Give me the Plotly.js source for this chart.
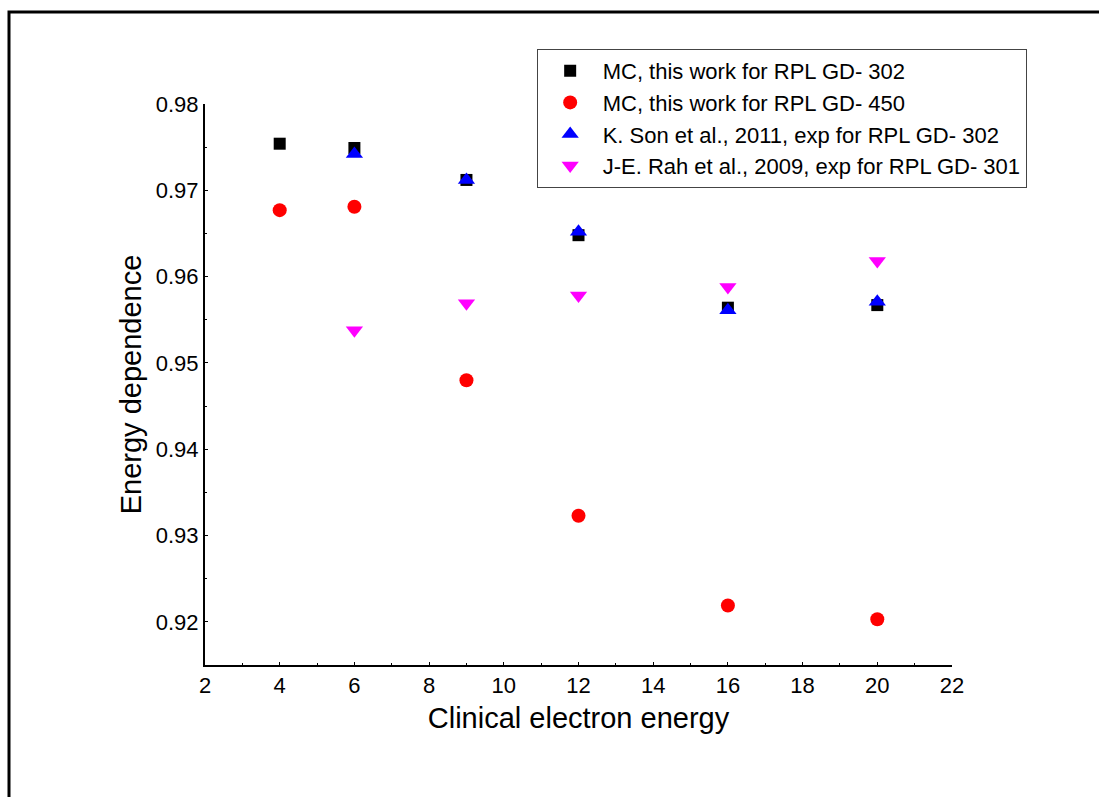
<!DOCTYPE html>
<html>
<head>
<meta charset="utf-8">
<script src="https://cdn.plot.ly/plotly-3.0.1.min.js"></script>
<style>
html,body{margin:0;padding:0;background:#fff;}
#chart{width:1099px;height:797px;}
</style>
</head>
<body>
<div id="chart"></div>
<script>
const energies = [4, 6, 9, 12, 16, 20];
const mcGD302 = [0.9754, 0.9749, 0.9712, 0.9648, 0.9564, 0.9567];
const mcGD450 = [0.9677, 0.9681, 0.9480, 0.9323, 0.9219, 0.9203];
const sonEnergies = [6, 9, 12, 16, 20];
const sonGD302 = [0.9742, 0.9712, 0.9652, 0.9561, 0.9571];
const rahEnergies = [6, 9, 12, 16, 20];
const rahGD301 = [0.9538, 0.9569, 0.9578, 0.9588, 0.9618];
const seriesNames = [
  "MC, this work for RPL GD- 302",
  "MC, this work for RPL GD- 450",
  "K. Son et al., 2011, exp for RPL GD- 302",
  "J-E. Rah et al., 2009, exp for RPL GD- 301"
];
const xTicks = [2, 4, 6, 8, 10, 12, 14, 16, 18, 20, 22];
const yTicks = [0.92, 0.93, 0.94, 0.95, 0.96, 0.97, 0.98];

const font = "Liberation Sans, Arial, sans-serif";

const traces = [
  {x: energies, y: mcGD302, name: seriesNames[0], mode: "markers", type: "scatter",
   marker: {symbol: "square", size: 12, color: "#000000"}},
  {x: energies, y: mcGD450, name: seriesNames[1], mode: "markers", type: "scatter",
   marker: {symbol: "circle", size: 14, color: "#ff0000"}},
  {x: sonEnergies, y: sonGD302, name: seriesNames[2], mode: "markers", type: "scatter",
   marker: {symbol: "triangle-up", size: 15, color: "#0000ff"}},
  {x: rahEnergies, y: rahGD301, name: seriesNames[3], mode: "markers", type: "scatter",
   marker: {symbol: "triangle-down", size: 15, color: "#ff00ff"}}
];

const layout = {
  width: 1099, height: 797,
  margin: {l: 205, r: 147, t: 104, b: 132},
  paper_bgcolor: "#ffffff", plot_bgcolor: "#ffffff",
  font: {family: font, color: "#000", size: 22},
  showlegend: true,
  legend: {
    x: 0.444, y: 1.098, xanchor: "left", yanchor: "top",
    bgcolor: "rgba(255,255,255,1)", bordercolor: "#444", borderwidth: 1,
    font: {family: font, size: 22, color: "#000"},
    itemwidth: 55, tracegroupgap: 0
  },
  xaxis: {
    range: [2, 22], tickvals: xTicks, ticktext: xTicks.map(String),
    showline: true, linecolor: "#000", linewidth: 2, mirror: false,
    showgrid: false, zeroline: false,
    ticks: "inside", ticklen: 3, tickwidth: 1, tickcolor: "#000",
    minor: {dtick: 1, tick0: 0, ticks: "inside", ticklen: 2, tickcolor: "#000"},
    tickfont: {family: font, size: 22, color: "#000"},
    title: {text: "Clinical electron energy", font: {family: font, size: 29, color: "#000"}, standoff: 10}
  },
  yaxis: {
    range: [0.915, 0.98], tickvals: yTicks, ticktext: yTicks.map(v => v.toFixed(2)),
    showline: true, linecolor: "#000", linewidth: 2, mirror: false,
    showgrid: false, zeroline: false,
    ticks: "inside", ticklen: 3, tickwidth: 1, tickcolor: "#000",
    minor: {dtick: 0.005, tick0: 0.92, ticks: "inside", ticklen: 2, tickcolor: "#000"},
    tickfont: {family: font, size: 22, color: "#000"},
    title: {text: "Energy dependence", font: {family: font, size: 29, color: "#000"}, standoff: 6}
  },
  shapes: [
    {type: "rect", xref: "paper", yref: "paper",
     x0: (9 - 205) / 747, x1: 1.3, y0: -0.4, y1: (665 - 12) / 561,
     line: {color: "#000", width: 3}, fillcolor: "rgba(0,0,0,0)", layer: "below"}
  ]
};

Plotly.newPlot("chart", traces, layout, {displayModeBar: false, staticPlot: true});
</script>
</body>
</html>
